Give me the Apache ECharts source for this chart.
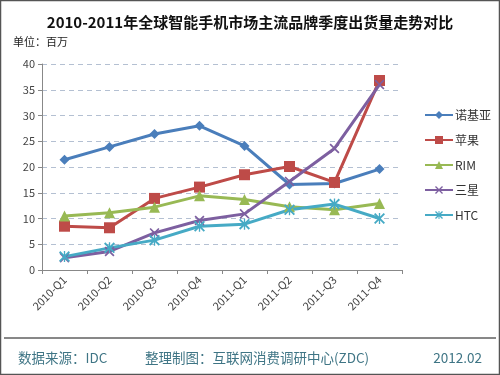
<!DOCTYPE html>
<html><head><meta charset="utf-8">
<script src="https://cdn.jsdelivr.net/npm/echarts@6/dist/echarts.min.js"></script>
<style>html,body{margin:0;padding:0;background:#fff}#c{width:500px;height:375px}</style>
</head><body><div id="c"></div>
<script>
const categories = ['2010-Q1','2010-Q2','2010-Q3','2010-Q4','2011-Q1','2011-Q2','2011-Q3','2011-Q4'];
const nokia   = [21.4, 23.9, 26.4, 28.0, 24.1, 16.6, 16.8, 19.6];
const apple   = [8.5, 8.2, 13.9, 16.1, 18.5, 20.1, 17.0, 36.8];
const rim     = [10.5, 11.1, 12.2, 14.4, 13.7, 12.3, 11.7, 12.9];
const samsung = [2.4, 3.6, 7.2, 9.6, 10.9, 17.2, 23.6, 36.0];
const htc     = [2.6, 4.3, 5.8, 8.5, 8.9, 11.7, 12.8, 10.0];
const seriesNames = ['诺基亚','苹果','RIM','三星','HTC'];
const yTicks = [0, 5, 10, 15, 20, 25, 30, 35, 40];

const FONT = "'Noto Sans CJK SC', sans-serif";
const X_PATH = 'path://M0,0.12 L0.12,0 L0.5,0.38 L0.88,0 L1,0.12 L0.62,0.5 L1,0.88 L0.88,1 L0.5,0.62 L0.12,1 L0,0.88 L0.38,0.5 Z';
const AST_PATH = 'path://M0,0.12 L0.12,0 L0.5,0.38 L0.88,0 L1,0.12 L0.62,0.5 L1,0.88 L0.88,1 L0.5,0.62 L0.12,1 L0,0.88 L0.38,0.5 Z M0.44,0 L0.56,0 L0.56,1 L0.44,1 Z';

const colors = ['#4A7EBB','#BE4B48','#98B954','#7D5FA0','#46AAC5'];
const symbols = ['diamond','rect','triangle',X_PATH,AST_PATH];
const symSizes = [10,11,11,10,11];
const data = [nokia, apple, rim, samsung, htc];

const chart = echarts.init(document.getElementById('c'), null, {renderer:'canvas'});
chart.setOption({
  animation:false,
  textStyle:{fontFamily:FONT},
  color: colors,
  title:{
    text:'2010-2011年全球智能手机市场主流品牌季度出货量走势对比',
    left:'center', top:10,
    textStyle:{fontFamily:FONT,fontSize:15,fontWeight:'bold',color:'#111'}
  },
  legend:{
    orient:'vertical', left:419, top:104, itemWidth:28, itemHeight:10, itemGap:13,
    data: seriesNames,
    textStyle:{fontFamily:FONT,fontSize:12,color:'#333',padding:[0,0,0,-3]}
  },
  grid:{left:42, right:98, top:64, bottom:105},
  xAxis:{
    type:'category', data:categories, boundaryGap:true,
    axisLine:{lineStyle:{color:'#888',width:1}},
    axisTick:{show:true,alignWithLabel:false,length:4,lineStyle:{color:'#888'}},
    axisLabel:{rotate:45,fontSize:11,color:'#444',fontFamily:FONT,margin:8,interval:0}
  },
  yAxis:{
    type:'value', min:yTicks[0], max:yTicks[yTicks.length-1], interval:5,
    axisLine:{show:true,lineStyle:{color:'#888'}},
    axisTick:{show:true,length:4,lineStyle:{color:'#888'}},
    axisLabel:{fontSize:11,color:'#444',fontFamily:FONT,margin:7},
    splitLine:{lineStyle:{type:[5,4],color:'#B4C0D2'}}
  },
  series: seriesNames.map((n,i)=>({
    name:n, type:'line', data:data[i],
    symbol:symbols[i], symbolSize:symSizes[i],
    lineStyle:{width:3,color:colors[i]},
    itemStyle:{color:colors[i]}
  })),
  graphic:[
    {type:'rect',shape:{x:0.5,y:0.5,width:499,height:374},style:{fill:null,stroke:'#555',lineWidth:1.5},silent:true},
    {type:'text',left:13,top:36,style:{text:'单位：百万',fontFamily:FONT,fontSize:11,fill:'#222'}},
    {type:'line',shape:{x1:4,y1:338,x2:496,y2:338},style:{stroke:'#111',lineWidth:1}},
    {type:'text',left:18,top:351,style:{text:'数据来源：IDC',fontFamily:FONT,fontSize:13.5,fill:'#3F7585'}},
    {type:'text',left:145,top:351,style:{text:'整理制图：互联网消费调研中心(ZDC)',fontFamily:FONT,fontSize:13.5,fill:'#3F7585'}},
    {type:'text',right:18,top:351,style:{text:'2012.02',fontFamily:FONT,fontSize:13.5,fill:'#3F7585'}}
  ]
});
</script></body></html>
